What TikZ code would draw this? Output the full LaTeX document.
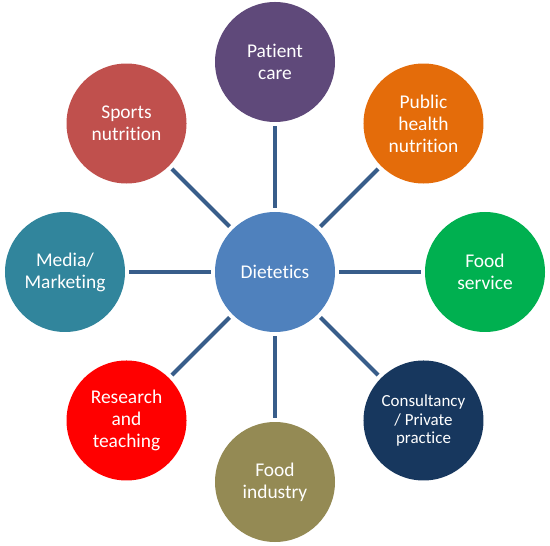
\documentclass[tikz,border=0pt]{standalone}
\usepackage{fontspec}
\setmainfont{Carlito}[Ligatures=NoCommon]

\definecolor{hubblue}{HTML}{4F81BD}
\definecolor{linkblue}{HTML}{385D8A}
\definecolor{patientc}{HTML}{5F497A}
\definecolor{publicc}{HTML}{E46C0A}
\definecolor{servicec}{HTML}{00B050}
\definecolor{consultc}{HTML}{17375E}
\definecolor{industryc}{HTML}{948A54}
\definecolor{researchc}{HTML}{FF0000}
\definecolor{mediac}{HTML}{31859C}
\definecolor{sportsc}{HTML}{C0504D}

\begin{document}
\begin{tikzpicture}[
			x=1bp, y=1bp,
			area/.style={circle, minimum size=120bp, inner sep=0pt, text=white,
					align=center, font=\fontsize{19.5}{22}\selectfont},
			smalltext/.style={font=\fontsize{17}{19}\selectfont},
			link/.style={draw=linkblue, line width=4bp, shorten <=4bp, shorten >=4bp}
		]

		% Canvas
		\useasboundingbox (-275,-274) rectangle (275,272);

		% Hub
		\node[area, fill=hubblue] (hub) at (0,0) {Dietetics};

		% Outer fields, clockwise from the top
		\node[area, fill=patientc] (patient) at (90:210) {Patient\\care};
		\node[area, fill=publicc] (public) at (45:210) {Public\\health\\nutrition};
		\node[area, fill=servicec] (service) at (0:210) {Food\\service};
		\node[area, smalltext, fill=consultc] (consult) at (-45:210) {Consultancy\\/ Private\\practice};
		\node[area, fill=industryc] (industry) at (-90:210) {Food\\industry};
		\node[area, fill=researchc] (research) at (-135:210) {Research\\and\\teaching};
		\node[area, fill=mediac] (media) at (180:210) {Media/\\Marketing};
		\node[area, fill=sportsc] (sports) at (135:210) {Sports\\nutrition};

		% Spokes
		\foreach \id in {patient, public, service, consult, industry, research, media, sports}
			\draw[link] (hub) -- (\id);

	\end{tikzpicture}
\end{document}
